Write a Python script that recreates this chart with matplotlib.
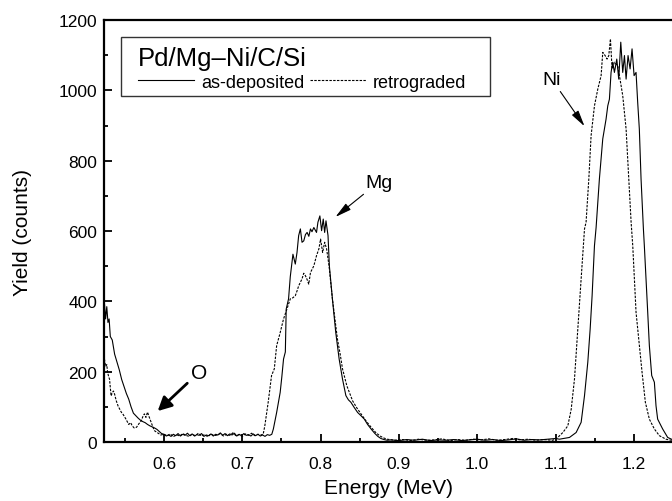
"""RBS spectra of the Pd/Mg-Ni/C/Si film, as-deposited vs. retrograded."""

import matplotlib

matplotlib.use("Agg")
import matplotlib.pyplot as plt  # noqa: E402
from matplotlib.patches import Rectangle  # noqa: E402
from matplotlib.ticker import MultipleLocator  # noqa: E402

plt.rcParams["font.family"] = ["Liberation Sans", "DejaVu Sans"]

# as-deposited spectrum: energy (MeV), yield (counts)
e_dep = [
    0.524, 0.5255, 0.527, 0.5285, 0.530, 0.5315, 0.534, 0.537, 0.540, 0.543,
    0.546, 0.549, 0.552, 0.555, 0.558, 0.561, 0.564, 0.567, 0.570, 0.573,
    0.576, 0.579, 0.582, 0.585, 0.588, 0.591, 0.594, 0.597, 0.600, 0.603,
    0.606, 0.609, 0.612, 0.615, 0.618, 0.621, 0.624, 0.627, 0.630, 0.633,
    0.636, 0.639, 0.642, 0.645, 0.648, 0.651, 0.654, 0.657, 0.660, 0.663,
    0.666, 0.669, 0.672, 0.675, 0.678, 0.681, 0.684, 0.687, 0.690, 0.693,
    0.696, 0.699, 0.702, 0.705, 0.708, 0.711, 0.714, 0.717, 0.720, 0.723,
    0.726, 0.729, 0.732, 0.735, 0.7377, 0.7397, 0.7418, 0.7439, 0.746, 0.7484,
    0.7505, 0.7527, 0.755, 0.7561, 0.7591, 0.7613, 0.7647, 0.7677, 0.7699, 0.772,
    0.7742, 0.7763, 0.7785, 0.7807, 0.7828, 0.785, 0.7871, 0.789, 0.7914, 0.7948,
    0.7966, 0.7991, 0.8013, 0.8034, 0.8052, 0.8069, 0.8095, 0.8112, 0.8151, 0.8194,
    0.8237, 0.828, 0.8323, 0.8355, 0.8387, 0.843, 0.8473, 0.8515, 0.8559, 0.860,
    0.8645, 0.869, 0.8731, 0.877, 0.881, 0.885, 0.890, 0.900, 0.910, 0.920,
    0.930, 0.940, 0.950, 0.960, 0.970, 0.980, 0.990, 1.000, 1.010, 1.020,
    1.030, 1.040, 1.050, 1.060, 1.070, 1.080, 1.090, 1.100, 1.105, 1.1178,
    1.1263, 1.1327, 1.137, 1.1412, 1.1442, 1.1467, 1.1497, 1.1518, 1.156, 1.1603,
    1.1645, 1.1667, 1.1688, 1.1709, 1.173, 1.1752, 1.1782, 1.1807, 1.1833, 1.1858,
    1.188, 1.1901, 1.1926, 1.1952, 1.1977, 1.2003, 1.2028, 1.2049, 1.207, 1.2092,
    1.2122, 1.2134, 1.2156, 1.2177, 1.2198, 1.2228, 1.2262, 1.2283, 1.2304, 1.2368,
    1.2432, 1.248, 1.250,
]
y_dep = [
    395, 350, 385, 340, 350, 300, 290, 250, 228, 205,
    178, 158, 138, 122, 100, 82, 75, 68, 62, 58,
    55, 50, 46, 43, 40, 36, 30, 24, 22, 17,
    20, 16, 22, 18, 24, 17, 22, 19, 25, 18,
    23, 17, 21, 19, 24, 16, 20, 18, 23, 17,
    22, 20, 26, 19, 24, 18, 23, 20, 25, 17,
    22, 18, 24, 19, 21, 17, 23, 18, 22, 17,
    20, 16, 21, 19, 22, 37, 60, 84, 110, 141,
    185, 236, 256, 378, 407, 470, 534, 506, 539, 587,
    606, 568, 572, 590, 596, 585, 606, 598, 610, 596,
    625, 643, 601, 634, 596, 629, 587, 501, 407, 311,
    236, 179, 132, 120, 113, 98, 84, 75, 65, 50,
    37, 25, 16, 10, 7, 5, 6, 4, 7, 5,
    8, 4, 6, 5, 7, 4, 6, 8, 5, 7,
    4, 6, 9, 5, 7, 6, 8, 10, 8, 13,
    27, 56, 132, 227, 321, 416, 558, 610, 748, 862,
    918, 956, 975, 1051, 1080, 1051, 1089, 1032, 1137, 1051,
    1099, 1032, 1099, 1061, 1118, 1042, 1051, 966, 890, 748,
    606, 558, 464, 369, 274, 189, 170, 103, 65, 37,
    13, 8, 6,
]

# retrograded spectrum
e_ret = [
    0.524, 0.5255, 0.527, 0.528, 0.5295, 0.5305, 0.5325, 0.534, 0.5355, 0.537,
    0.539, 0.5415, 0.5455, 0.548, 0.5515, 0.555, 0.5575, 0.5595, 0.562, 0.565,
    0.568, 0.571, 0.573, 0.575, 0.577, 0.579, 0.581, 0.5835, 0.586, 0.588,
    0.592, 0.596, 0.600, 0.604, 0.608, 0.612, 0.616, 0.620, 0.624, 0.628,
    0.632, 0.636, 0.640, 0.644, 0.648, 0.652, 0.656, 0.660, 0.664, 0.668,
    0.672, 0.676, 0.680, 0.684, 0.688, 0.692, 0.696, 0.700, 0.704, 0.708,
    0.712, 0.716, 0.720, 0.7235, 0.7267, 0.7288, 0.7331, 0.7374, 0.7409, 0.7439,
    0.7484, 0.7527, 0.757, 0.7613, 0.7645, 0.7677, 0.770, 0.772, 0.7763, 0.7785,
    0.7806, 0.7828, 0.7849, 0.7871, 0.7914, 0.7948, 0.7978, 0.800, 0.8026, 0.8052,
    0.8077, 0.8108, 0.8151, 0.8183, 0.8215, 0.825, 0.828, 0.8335, 0.837, 0.8409,
    0.846, 0.8516, 0.858, 0.8645, 0.870, 0.8753, 0.880, 0.885, 0.895, 0.905,
    0.915, 0.925, 0.935, 0.945, 0.955, 0.965, 0.975, 0.985, 0.995, 1.005,
    1.015, 1.025, 1.035, 1.045, 1.055, 1.065, 1.075, 1.085, 1.0966, 1.1029,
    1.1093, 1.1157, 1.120, 1.1242, 1.1284, 1.1327, 1.137, 1.139, 1.1425, 1.1454,
    1.1497, 1.154, 1.1582, 1.1603, 1.1633, 1.1658, 1.168, 1.1701, 1.1722, 1.1752,
    1.1794, 1.1816, 1.1858, 1.1901, 1.1935, 1.1965, 1.1986, 1.2007, 1.2028, 1.207,
    1.2105, 1.2147, 1.2198, 1.2262, 1.2326, 1.241, 1.250,
]
y_ret = [
    236, 215, 220, 199, 185, 179, 131, 140, 145, 136,
    118, 102, 85, 78, 65, 50, 55, 46, 40, 42,
    52, 60, 72, 80, 70, 85, 72, 57, 42, 32,
    26, 20, 22, 18, 23, 15, 21, 17, 24, 19,
    16, 22, 18, 25, 17, 21, 15, 23, 18, 20,
    24, 17, 22, 19, 26, 18, 21, 16, 23, 19,
    25, 18, 22, 20, 22, 46, 113, 189, 208, 274,
    311, 350, 378, 407, 410, 416, 430, 444, 464, 480,
    473, 462, 449, 482, 501, 530, 549, 577, 539, 568,
    549, 501, 407, 350, 293, 250, 208, 160, 140, 117,
    98, 80, 60, 42, 28, 18, 12, 8, 5, 7,
    4, 8, 5, 6, 9, 4, 7, 5, 8, 6,
    9, 5, 7, 10, 6, 8, 5, 7, 5, 13,
    27, 46, 93, 179, 321, 464, 606, 625, 748, 871,
    956, 1004, 1042, 1108, 1099, 1089, 1099, 1146, 1061, 1080,
    1070, 1042, 985, 890, 748, 625, 558, 464, 369, 274,
    198, 113, 65, 37, 18, 8, 4,
]

legend_title = "Pd/Mg\u2013Ni/C/Si"
series_labels = ["as-deposited", "retrograded"]

# element labels: (text, text position, arrow tip) in data units
peak_labels = [
    ("Ni", (1.095, 1032), (1.137, 898)),
    ("Mg", (0.874, 739), (0.819, 640)),
]
oxygen_label = ("O", (0.645, 199), (0.592, 88))


def main() -> None:
    fig = plt.figure(figsize=(6.72, 5.02), dpi=100)
    ax = fig.add_axes([0.1554, 0.1175, 0.8461, 0.8406])

    ax.plot(e_dep, y_dep, color="black", lw=0.8, label=series_labels[0])
    ax.plot(e_ret, y_ret, color="black", lw=0.8, ls=(0, (2.2, 1.2)),
            label=series_labels[1])

    ax.set_xlim(0.524, 1.25)
    ax.set_ylim(0, 1200)
    ax.xaxis.set_major_locator(MultipleLocator(0.1))
    ax.xaxis.set_minor_locator(MultipleLocator(0.05))
    ax.yaxis.set_major_locator(MultipleLocator(200))
    ax.yaxis.set_minor_locator(MultipleLocator(100))
    ax.xaxis.set_major_formatter(lambda v, _: f"{v:.1f}")
    ax.tick_params(which="both", direction="in", labelsize=12.5, width=1.3)
    ax.tick_params(which="major", length=6)
    ax.tick_params(which="minor", length=3)
    ax.tick_params(axis="x", pad=10)
    ax.tick_params(axis="y", pad=5)
    for side in ("left", "bottom", "top"):
        ax.spines[side].set_linewidth(1.6)
    ax.spines["right"].set_visible(False)

    ax.set_xlabel("Energy (MeV)", fontsize=15)
    ax.set_ylabel("Yield (counts)", fontsize=15)
    ax.xaxis.set_label_coords(0.5, -0.086)
    ax.yaxis.set_label_coords(-0.128, 0.5)

    # legend drawn unframed inside a hand-placed box
    ax.add_patch(Rectangle((0.0292, 0.820), 0.6488, 0.1397, transform=ax.transAxes,
                           facecolor="white", edgecolor="#333333", lw=1.0, zorder=4))
    leg = ax.legend(title=legend_title, ncol=2, loc="upper left",
                    bbox_to_anchor=(0.0591, 0.938), borderaxespad=0, borderpad=0,
                    frameon=False, fontsize=13, title_fontsize=18.5,
                    alignment="left", handlelength=3.1, handletextpad=0.4,
                    columnspacing=0.3, labelspacing=0.2)
    leg.set_zorder(5)

    for text, xy_text, xy_tip in peak_labels:
        ax.annotate(text, xy=xy_tip, xytext=xy_text, fontsize=14,
                    ha="center", va="center",
                    arrowprops=dict(arrowstyle="-|>,head_length=0.7,head_width=0.17",
                                    color="black", lw=0.8, shrinkA=1, shrinkB=0))
    text, xy_text, xy_tip = oxygen_label
    ax.annotate(text, xy=xy_tip, xytext=xy_text, fontsize=15,
                ha="center", va="center",
                arrowprops=dict(arrowstyle="-|>,head_length=0.55,head_width=0.28",
                                color="black", lw=2.0, shrinkA=1, shrinkB=0))

    fig.savefig("out.png", dpi=100)


if __name__ == "__main__":
    main()
